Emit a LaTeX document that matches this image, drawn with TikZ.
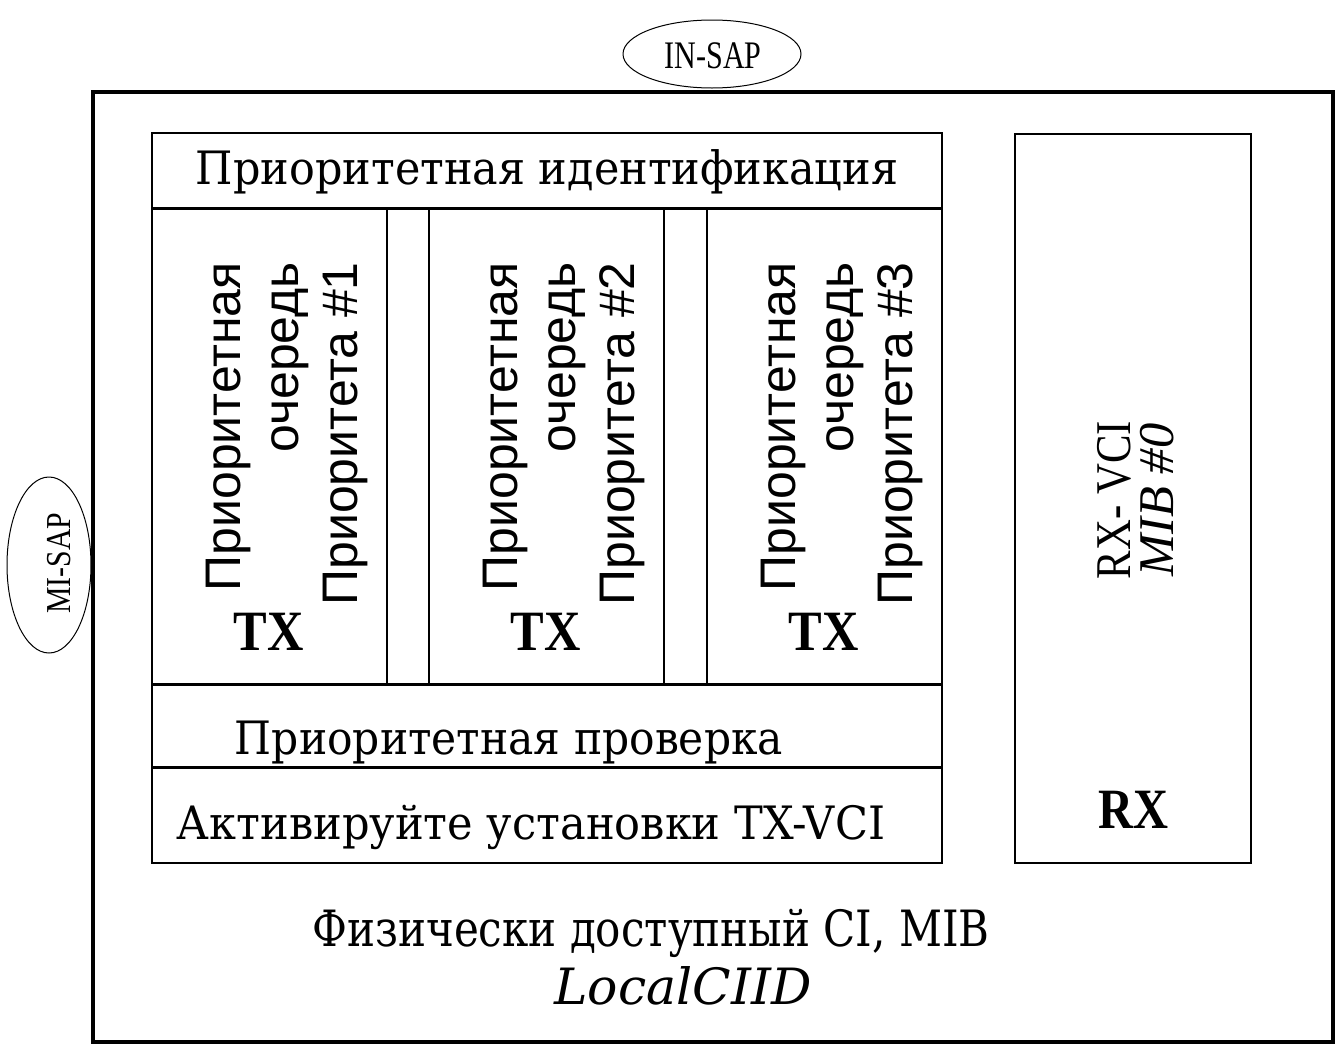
\documentclass[tikz,border=0pt]{standalone}
\usepackage{fontspec}
\usepackage{graphicx}
\setmainfont{Liberation Serif}
\newfontfamily\dserif{DejaVu Serif}
\newfontfamily\lsans{Liberation Sans}
\newcommand{\sxw}[2]{\resizebox{#1}{\height}{#2}}
\usetikzlibrary{shapes.geometric}
\begin{document}
\begin{tikzpicture}[x=1pt,y=-1pt,
  cell/.style={draw, line width=1.8pt, inner sep=0pt, anchor=north west},
  sepline/.style={line width=3pt},
  outerbox/.style={draw, line width=4pt, inner sep=0pt, anchor=north west},
  sap/.style={draw, ellipse, line width=1pt, fill=white, inner sep=0pt},
  ru/.style={inner sep=0pt, anchor=base, font=\dserif\fontsize{46}{55}\selectfont},
  vt/.style={inner sep=0pt, anchor=base east, rotate=90, font=\lsans\fontsize{50}{60}\selectfont},
  bigbold/.style={inner sep=0pt, anchor=base, font=\bfseries\fontsize{57}{60}\selectfont},
  tm/.style={inner sep=0pt, font=\fontsize{39}{45}\selectfont}
]
\useasboundingbox (0,0) rectangle (1340,1050);

% outer box
\node[outerbox, minimum width=1240pt, minimum height=950pt] (outer) at (91,90) {};

% access points
\node[sap, minimum width=178pt, minimum height=68pt] (insap) at (712,54) {};
\node[tm, anchor=base] (insapT) at (713,68) {\sxw{97pt}{IN-SAP}};
\node[sap, minimum width=84pt, minimum height=176pt] (misap) at (49,565) {};
\node[tm, rotate=90, anchor=base, font=\fontsize{35}{40}\selectfont] (misapT) at (70,563) {\sxw{101pt}{MI-SAP}};

% TX block
\node[cell, minimum width=790pt, minimum height=75pt] (hdr) at (151,132) {};
\node[cell, minimum width=235pt, minimum height=477pt] (c1) at (151,207) {};
\node[cell, minimum width=235pt, minimum height=477pt] (c2) at (428,207) {};
\node[cell, minimum width=235pt, minimum height=477pt] (c3) at (706,207) {};
\node[cell, minimum width=790pt, minimum height=83pt] (chk) at (151,684) {};
\node[cell, minimum width=790pt, minimum height=95pt] (act) at (151,767) {};
\draw[sepline] (hdr.south west) -- (hdr.south east);
\draw[sepline] (chk.north west) -- (chk.north east);
\draw[sepline] (act.north west) -- (act.north east);

\node[ru] (hdrT) at (547,184) {\sxw{702pt}{Приоритетная идентификация}};
\node[ru] (chkT) at (509,754) {\sxw{548pt}{Приоритетная проверка}};
\node[ru] (actT) at (531,839) {\sxw{708pt}{Активируйте установки TX-VCI}};

% vertical queue labels
\node[vt] (q1a) at (240,262) {Приоритетная};
\node[vt] (q1b) at (298.5,262) {очередь};
\node[vt] (q1c) at (357,262) {Приоритета \#1};
\node[vt] (q2a) at (517,262) {Приоритетная};
\node[vt] (q2b) at (575.5,262) {очередь};
\node[vt] (q2c) at (634,262) {Приоритета \#2};
\node[vt] (q3a) at (795,262) {Приоритетная};
\node[vt] (q3b) at (853.5,262) {очередь};
\node[vt] (q3c) at (912,262) {Приоритета \#3};

\node[bigbold] (tx1) at (268.5,650) {\sxw{70pt}{TX}};
\node[bigbold] (tx2) at (545.5,650) {\sxw{70pt}{TX}};
\node[bigbold] (tx3) at (823.5,650) {\sxw{70pt}{TX}};

% RX block
\node[cell, line width=1.5pt, minimum width=236pt, minimum height=729pt] (rx) at (1014,133) {};
\node[inner sep=0pt, rotate=90, anchor=base, font=\fontsize{50}{55}\selectfont] (rxv) at (1130,500) {\sxw{158pt}{RX- VCI}};
\node[inner sep=0pt, rotate=90, anchor=base, font=\itshape\fontsize{50}{55}\selectfont] (mib) at (1173,500) {\sxw{153pt}{MIB \#0}};
\node[bigbold] (rxT) at (1133,828) {\sxw{70pt}{RX}};

% bottom labels
\node[ru, font=\dserif\fontsize{50}{60}\selectfont] (phys) at (651,946) {\sxw{677pt}{Физически доступный CI, MIB}};
\node[ru, font=\dserif\itshape\fontsize{50}{60}\selectfont] (local) at (683,1004) {\sxw{257pt}{LocalCIID}};
\end{tikzpicture}
\end{document}
